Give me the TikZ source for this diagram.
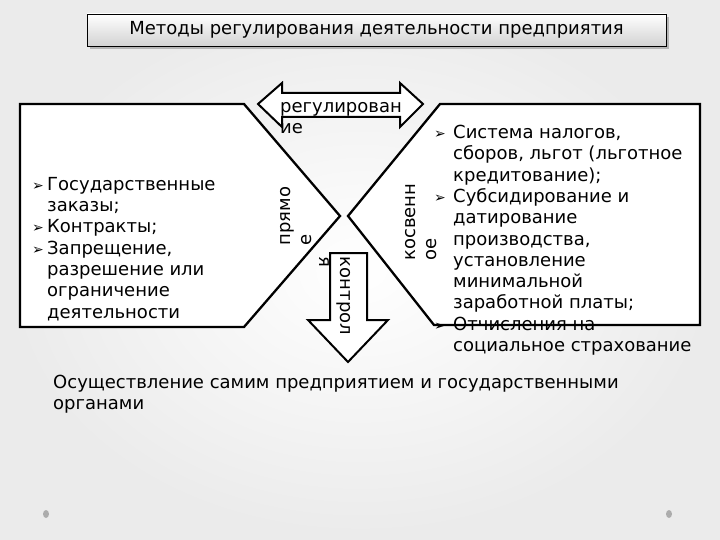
\documentclass[tikz,border=0pt]{standalone}
\usepackage{fontspec}
\setmainfont{DejaVu Sans}
\usetikzlibrary{shadows}
\newcommand\mk[1][15pt]{\makebox[#1][l]{\fontsize{14}{14}\selectfont ➢}}
\newcommand\ind[1][15pt]{\hspace*{#1}}
\begin{document}
\begin{tikzpicture}[x=1pt, y=-1pt, line join=miter,
    shp/.style={draw=black, line width=2.3pt, fill=white},
    txt/.style={font=\fontsize{18}{21.3}\selectfont, inner sep=0pt, align=left}]
    \shade[inner color=white, outer color=gray!16] (0,0) rectangle (720,540);
    \node[draw, line width=0.8pt, top color=white, bottom color=gray!35, drop shadow, minimum width=579pt, minimum height=32pt, font=\fontsize{18}{20}\selectfont] (title) at (376.5,30) {Методы регулирования деятельности предприятия};
    \draw[shp] (20,104) -- (244,104) -- (340,216) -- (244,327) -- (20,327) -- cycle;
    \draw[shp] (440,104) -- (700,104) -- (700,325) -- (434,325) -- (348,216) -- cycle;
    \draw[shp, line width=2pt] (258,104) -- (282,83) -- (282,93) -- (400,93) -- (400,83) -- (423,104) -- (400,127) -- (400,117) -- (282,117) -- (282,127) -- cycle;
    \draw[shp, line width=2pt] (330,253) -- (367,253) -- (367,320) -- (388,320) -- (348,362) -- (308,320) -- (330,320) -- cycle;
    \node[txt, anchor=north west] (lft) at (32,177) {\mk Государственные\\\ind заказы;\\\mk Контракты;\\\mk Запрещение,\\\ind разрешение или\\\ind ограничение\\\ind деятельности};
    \node[txt, anchor=north west] (rgt) at (434,125) {\mk[19pt]Система налогов,\\\ind[19pt]сборов, льгот (льготное\\\ind[19pt]кредитование);\\\mk[19pt]Субсидирование и\\\ind[19pt]датирование\\\ind[19pt]производства,\\\ind[19pt]установление\\\ind[19pt]минимальной\\\ind[19pt]заработной платы;\\\mk[19pt]Отчисления на\\\ind[19pt]социальное страхование};
    \node[txt] (reg) at (341,118) {регулирован\\ие};
    \node[txt, rotate=90] (prm) at (296,216) {прямо\\е};
    \node[txt, rotate=90] (ksv) at (421,222) {косвенн\\ое};
    \node[txt, rotate=-90] (knt) at (335,296) {контрол\\я};
    \node[txt, anchor=north west] (osu) at (53,375) {Осуществление самим предприятием и государственными\\органами};
    \fill[gray!65] (46,514) ellipse (3pt and 4pt);
    \fill[gray!65] (669,514) ellipse (3pt and 4pt);
\end{tikzpicture}
\end{document}
